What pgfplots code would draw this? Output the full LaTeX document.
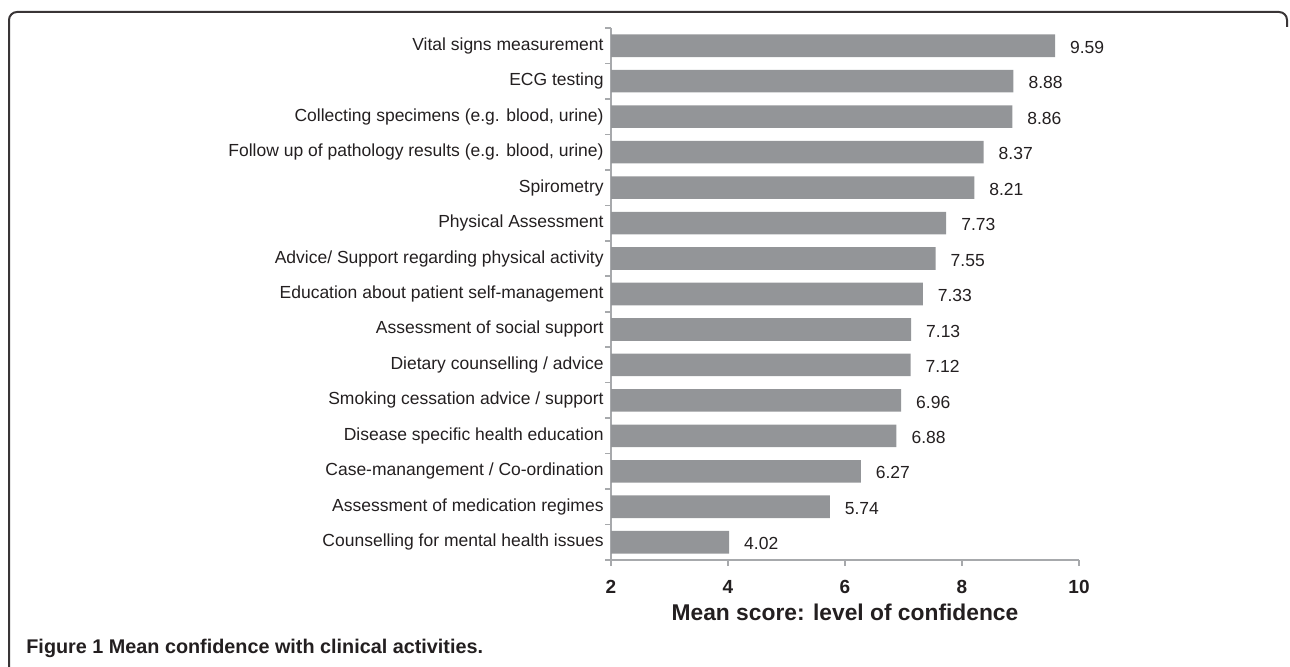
\documentclass[border=0pt]{standalone}
\usepackage{pgfplots}
\pgfplotsset{compat=1.18}
\usepackage{fontspec}
\setmainfont{Liberation Sans}
\definecolor{barc}{HTML}{939598}
\definecolor{axc}{HTML}{A7A9AC}
\definecolor{txt}{HTML}{231F20}
\begin{document}
\begin{tikzpicture}
\path[use as bounding box] (0,0) rectangle (645pt,333.5pt);
\draw[line width=1pt, color=txt!90, rounded corners=4pt] (4.5pt,-2pt) -- (4.5pt,327.5pt) -- (643.5pt,327.5pt) -- (643.5pt,320pt);
\node[anchor=base west, inner sep=0pt, font=\fontsize{9.9pt}{11pt}\selectfont\bfseries, text=txt] at (13pt,6.5pt) {Figure 1 Mean confidence with clinical activities.};
\begin{axis}[
  at={(305.5pt,53.5pt)}, anchor=south west,
  width=234pt, height=266pt, scale only axis,
  xbar, bar width=11.3pt,
  xmin=2, xmax=10,
  ymin=-0.5, ymax=14.5, y dir=reverse,
  axis lines*=left,
  axis line style={color=axc, line width=0.8pt},
  xtick={2,4,6,8,10},
  minor xtick={2,4,6,8,10},
  ytick={0,...,14},
  minor ytick={-0.5,0.5,...,14.5},
  major tick length=0pt, minor tick length=3pt,
  tick align=outside,
  every tick/.style={color=axc, line width=0.8pt},
  yticklabels={Vital signs measurement, ECG testing, {Collecting specimens (e.g. blood, urine)}, {Follow up of pathology results (e.g. blood, urine)}, Spirometry, Physical Assessment, Advice/ Support regarding physical activity, Education about patient self-management, Assessment of social support, Dietary counselling / advice, Smoking cessation advice / support, Disease specific health education, Case-manangement / Co-ordination, Assessment of medication regimes, Counselling for mental health issues},
  yticklabel style={font=\fontsize{8.75pt}{10pt}\selectfont, text=txt, inner sep=3.5pt},
  xticklabel style={font=\fontsize{9.5pt}{11pt}\selectfont\bfseries, text=txt, yshift=-6.5pt},
  /pgf/number format/assume math mode=true,
  xlabel={Mean score: level of confidence},
  xlabel style={font=\fontsize{11.4pt}{13pt}\selectfont\bfseries, text=txt, yshift=1.5pt},
  nodes near coords,
  nodes near coords style={font=\fontsize{8.75pt}{10pt}\selectfont, text=txt, anchor=west, xshift=4pt, yshift=-0.8pt},
  point meta=explicit symbolic,
  clip=false,
]
\addplot[fill=barc, draw=none] table[meta=l] {
x y l
9.59 0 9.59
8.88 1 8.88
8.86 2 8.86
8.37 3 8.37
8.21 4 8.21
7.73 5 7.73
7.55 6 7.55
7.33 7 7.33
7.13 8 7.13
7.12 9 7.12
6.96 10 6.96
6.88 11 6.88
6.27 12 6.27
5.74 13 5.74
4.02 14 4.02
};
\end{axis}
\end{tikzpicture}
\end{document}
